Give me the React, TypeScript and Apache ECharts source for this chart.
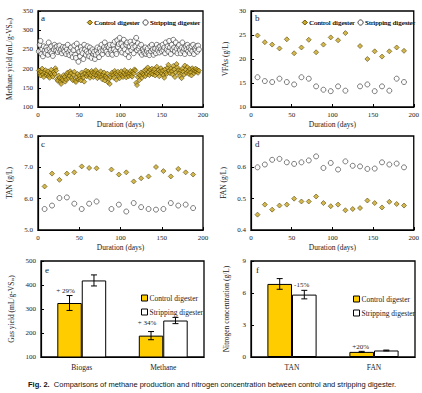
import React, { useEffect, useRef } from "react";
import * as echarts from "echarts";

// ---------- Panel a: daily methane yield (mL/g-VSin), days 1..195 ----------
const controlYield = [
  195, 188, 182, 192, 200, 185, 178, 190, 196, 183,
  187, 193, 180, 176, 189, 197, 184, 179, 191, 186,
  201, 195, 172, 168, 182, 176, 165, 160, 174, 170,
  183, 178, 166, 172, 186, 190, 175, 181, 193, 188,
  176, 170, 184, 192, 168, 165, 178, 186, 172, 181,
  174, 169, 190, 183, 177, 166, 188, 195, 180, 185,
  192, 187, 176, 183, 194, 189, 178, 185, 191, 196,
  182, 175, 188, 180, 186, 193, 179, 172, 184, 190,
  169, 181, 176, 187, 164, 173, 160, 178, 185, 190,
  183, 176, 194, 188, 171, 185, 192, 180, 175, 187,
  193, 182, 178, 189, 196, 184, 177, 191, 186, 180,
  188, 194, 183, 179, 192, 187, 198, 195, 163, 157,
  178, 185, 170, 182, 190, 176, 188, 184, 195, 180,
  198, 186, 203, 191, 183, 197, 188, 200, 185, 193,
  198, 182, 190, 205, 187, 196, 180, 193, 201, 188,
  195, 183, 176, 198, 190, 186, 202, 210, 195, 188,
  200, 193, 185, 207, 198, 178, 190, 212, 203, 196,
  188, 181, 195, 175, 200, 192, 184, 208, 197, 189,
  204, 193, 186, 199, 190, 182, 201, 196, 188, 194,
  200, 192, 197, 189, 195,
];
const strippingYield = [
  245, 262, 272, 238, 250, 232, 258, 246, 240, 255,
  248, 236, 268, 252, 243, 258, 240, 233, 250, 262,
  255, 247, 258, 243, 252, 260, 245, 250, 240, 256,
  248, 244, 256, 238, 250, 262, 242, 235, 248, 255,
  240, 230, 248, 260, 236, 228, 265, 252, 218, 244,
  232, 256, 248, 240, 225, 262, 250, 236, 245, 258,
  240, 232, 255, 245, 228, 250, 238, 244, 225, 236,
  248, 255, 240, 230, 252, 245, 262, 238, 248, 256,
  268, 250, 244, 258, 238, 255, 262, 248, 240, 236,
  262, 250, 270, 245, 238, 274, 256, 264, 280, 248,
  265, 242, 258, 275, 250, 238, 262, 268, 245, 230,
  258, 270, 248, 262, 255, 240, 272, 258, 280, 248,
  266, 252, 258, 242, 262, 236, 250, 245, 240, 255,
  238, 246, 252, 240, 235, 258, 245, 262, 250, 236,
  245, 252, 240, 262, 248, 255, 242, 258, 250, 245,
  262, 248, 255, 240, 268, 250, 258, 244, 272, 255,
  238, 262, 250, 275, 255, 245, 268, 252, 240, 258,
  262, 248, 240, 255, 268, 245, 252, 238, 258, 250,
  262, 245, 255, 240, 250, 258, 245, 262, 238, 252,
  248, 258, 244, 260, 250,
];

// ---------- Panels b, c, d: periodic samples ----------
const sampleDays = [8, 17, 26, 35, 44, 53, 62, 71, 80, 89, 98, 107, 116, 125, 134, 143, 152, 161, 170, 179, 188];
const vfaControl = [24.9, 23.5, 23.0, 22.2, 24.1, 21.2, 22.4, 24.0, 21.4, 23.0, 24.5, 23.9, 25.4, null, 22.7, 20.0, 21.6, 20.5, 21.6, 22.4, 21.7];
const vfaStripping = [16.2, 15.4, 15.2, 15.9, 15.2, 14.7, 16.2, 15.9, 14.3, 13.6, 13.3, 14.3, 13.4, null, 14.3, 14.7, 13.3, 14.3, 13.4, 15.9, 15.2];
const tanControl = [6.39, 6.8, 6.6, 6.8, 6.84, 7.03, 6.98, 6.97, null, 6.93, 6.77, 6.84, 6.55, 6.65, 6.71, 7.01, 6.88, 6.71, 6.95, 6.84, 6.77];
const tanStripping = [5.67, 5.78, 6.02, 6.04, 5.84, 5.67, 5.84, 5.91, null, 5.67, 5.81, 5.59, 5.86, 5.73, 5.67, 5.65, 5.67, 5.86, 5.78, 5.81, 5.7];
const fanControl = [0.449, 0.481, 0.465, 0.478, 0.481, 0.5, 0.491, 0.491, 0.507, 0.486, 0.476, 0.481, 0.463, 0.467, 0.47, 0.494, 0.486, 0.472, 0.49, 0.483, 0.478];
const fanStripping = [0.6, 0.609, 0.624, 0.627, 0.616, 0.611, 0.616, 0.622, 0.635, 0.598, 0.614, 0.593, 0.619, 0.605, 0.603, 0.595, 0.596, 0.616, 0.609, 0.612, 0.6];

// ---------- Panel e ----------
const gasCategories = ["Biogas", "Methane"];
const gasControl = [325, 189];
const gasControlErr = [31, 17];
const gasStripping = [419, 252];
const gasStrippingErr = [23, 13];
const gasChange = ["+ 29%", "+ 34%"];

// ---------- Panel f ----------
const nCategories = ["TAN", "FAN"];
const nControl = [6.85, 0.48];
const nControlErr = [0.5, 0.05];
const nStripping = [5.85, 0.61];
const nStrippingErr = [0.4, 0.04];
const nChange = ["-15%", "+20%"];

const SERIF = "Liberation Serif";
const INK = "#1a1a1a";
const CONTROL_FILL = "#c9a520";
const CONTROL_EDGE = "#4a3c00";
const BAR_YELLOW = "#ffcc00";

const pairs = (days: number[], vals: (number | null)[]) =>
  days.map((d, i) => [d, vals[i]]).filter((p) => p[1] !== null);

export default function App() {
  const ref = useRef<HTMLDivElement>(null);

  useEffect(() => {
    document.body.style.margin = "0";
    if (!ref.current) return;
    const chart = echarts.init(ref.current, undefined, { renderer: "svg" });

    const tickText = { fontFamily: SERIF, fontSize: 7, color: INK };
    const nameText = (extra: any = {}) => ({
      fontFamily: SERIF,
      fontSize: 7.5,
      color: INK,
      rich: { sub: { fontFamily: SERIF, fontSize: 5, color: INK, verticalAlign: "bottom", padding: [3, 0, 0, 0] } },
      ...extra,
    });
    const axisLine = { show: true, lineStyle: { color: "#000", width: 1.2 } };

    const grids = [
      { left: 38, right: 219, top: 11, height: 96 },
      { left: 251, right: 7, top: 11, height: 96 },
      { left: 38, right: 219, top: 136, height: 94 },
      { left: 251, right: 7, top: 136, height: 94 },
      { left: 41, right: 218, top: 261, height: 96 },
      { left: 251, right: 7, top: 261, height: 96 },
    ].map((g) => ({ ...g, show: true, borderColor: "#000", borderWidth: 1.3, containLabel: false }));

    const durationAxis = (gi: number) => ({
      type: "value",
      gridIndex: gi,
      min: 0,
      max: 200,
      interval: 50,
      name: "Duration (days)",
      nameLocation: "middle",
      nameGap: 13,
      nameTextStyle: nameText(),
      axisLine,
      axisTick: { show: true, inside: true, length: 3, lineStyle: { color: "#000" } },
      axisLabel: { ...tickText, margin: 4 },
      splitLine: { show: false },
    });
    const valueY = (gi: number, min: number, max: number, interval: number, name: string, gap: number, dec = 0) => ({
      type: "value",
      gridIndex: gi,
      min,
      max,
      interval,
      name,
      nameLocation: "middle",
      nameGap: gap,
      nameTextStyle: nameText(),
      axisLine,
      axisTick: { show: true, inside: true, length: 3, lineStyle: { color: "#000" } },
      axisLabel: { ...tickText, margin: 5, formatter: (v: number) => v.toFixed(dec) },
      splitLine: { show: false },
    });
    const catX = (gi: number, cats: string[]) => ({
      type: "category",
      gridIndex: gi,
      data: cats,
      axisLine,
      axisTick: { show: false },
      axisLabel: { fontFamily: SERIF, fontSize: 7.5, color: INK, margin: 6 },
    });

    const controlScatter = (name: string, gi: number, data: any[]) => ({
      type: "scatter",
      name,
      xAxisIndex: gi,
      yAxisIndex: gi,
      symbol: "diamond",
      symbolSize: 5,
      itemStyle: { color: CONTROL_FILL, borderColor: CONTROL_EDGE, borderWidth: 0.7 },
      data,
    });
    const strippingScatter = (name: string, gi: number, data: any[]) => ({
      type: "scatter",
      name,
      xAxisIndex: gi,
      yAxisIndex: gi,
      symbol: "circle",
      symbolSize: 5,
      itemStyle: { color: "#ffffff", borderColor: "#333", borderWidth: 0.8 },
      data,
    });

    const days = controlYield.map((_, i) => i + 1);

    const errorSeries = (gi: number, values: number[], errs: number[], side: number) => ({
      type: "custom",
      name: "err",
      xAxisIndex: gi,
      yAxisIndex: gi,
      silent: true,
      z: 10,
      data: values.map((v, i) => [i, v - errs[i], v + errs[i]]),
      encode: { x: 0, y: [1, 2] },
      renderItem: (_p: any, api: any) => {
        const band = api.size([1, 0])[0];
        const lo = api.coord([api.value(0), api.value(1)]);
        const hi = api.coord([api.value(0), api.value(2)]);
        const x = lo[0] + side * band * 0.15;
        const cap = 3;
        const st = { stroke: "#000", lineWidth: 1 };
        return {
          type: "group",
          children: [
            { type: "line", shape: { x1: x, y1: lo[1], x2: x, y2: hi[1] }, style: st },
            { type: "line", shape: { x1: x - cap, y1: lo[1], x2: x + cap, y2: lo[1] }, style: st },
            { type: "line", shape: { x1: x - cap, y1: hi[1], x2: x + cap, y2: hi[1] }, style: st },
          ],
        };
      },
    });

    const barSeries = (name: string, gi: number, values: number[], color: string, labels?: any[]) => ({
      type: "bar",
      name,
      xAxisIndex: gi,
      yAxisIndex: gi,
      barGap: "0%",
      barCategoryGap: "40%",
      itemStyle: { color, borderColor: "#000", borderWidth: 1 },
      data: values.map((v, i) => (labels ? { value: v, label: labels[i] } : v)),
    });

    const pctLabel = (text: string, distance: number, offset: number[]) => ({
      show: true,
      position: "top",
      formatter: text,
      distance,
      offset,
      fontFamily: SERIF,
      fontSize: 7,
      color: INK,
    });

    const scatterLegend = (p: string, left: number) => ({
      left,
      top: 14,
      orient: "horizontal",
      itemWidth: 5,
      itemHeight: 5,
      itemGap: 3,
      selectedMode: false,
      textStyle: { fontFamily: SERIF, fontSize: 7, color: INK, padding: [0, 0, 0, -3] },
      formatter: (n: string) => n.split("|")[1],
      data: [
        { name: p + "|Control digester", icon: "diamond", itemStyle: { color: CONTROL_FILL, borderColor: CONTROL_EDGE, borderWidth: 0.7 } },
        { name: p + "|Stripping digester", icon: "circle", itemStyle: { color: "#fff", borderColor: "#333", borderWidth: 0.8 } },
      ],
    });
    const barLegend = (p: string, left: number, top: number) => ({
      left,
      top,
      orient: "vertical",
      itemWidth: 6,
      itemHeight: 6,
      itemGap: 6,
      selectedMode: false,
      textStyle: { fontFamily: SERIF, fontSize: 7.5, color: INK, padding: [0, 0, 0, -3] },
      formatter: (n: string) => n.split("|")[1],
      data: [
        { name: p + "|Control digester", icon: "rect", itemStyle: { color: BAR_YELLOW, borderColor: "#000", borderWidth: 1 } },
        { name: p + "|Stripping digester", icon: "rect", itemStyle: { color: "#fff", borderColor: "#000", borderWidth: 1 } },
      ],
    });

    const letter = (t: string, x: number, y: number) => ({
      type: "text",
      x,
      y,
      style: { text: t, fontFamily: SERIF, fontSize: 9, fill: INK },
    });

    chart.setOption({
      animation: false,
      backgroundColor: "#ffffff",
      grid: grids,
      xAxis: [
        durationAxis(0),
        durationAxis(1),
        durationAxis(2),
        durationAxis(3),
        catX(4, gasCategories),
        catX(5, nCategories),
      ],
      yAxis: [
        valueY(0, 100, 350, 50, "Methane yield (mL/g-VS{sub|in})", 25),
        valueY(1, 10, 30, 5, "VFAs (g/L)", 22),
        valueY(2, 5, 8, 1, "TAN (g/L)", 25, 1),
        valueY(3, 0.4, 0.7, 0.1, "FAN (g/L)", 24, 1),
        valueY(4, 100, 500, 100, "Gas yield (mL/g-VS{sub|in})", 26),
        valueY(5, 0, 9, 3, "Nitrogen concentration (g/L)", 21),
      ],
      legend: [
        scatterLegend("a", 82),
        scatterLegend("b", 297),
        scatterLegend("c", 82),
        scatterLegend("d", 297),
        barLegend("e", 136, 289),
        barLegend("f", 348, 290),
      ],
      series: [
        controlScatter("a|Control digester", 0, days.map((d, i) => [d, controlYield[i]])),
        strippingScatter("a|Stripping digester", 0, days.map((d, i) => [d, strippingYield[i]])),
        controlScatter("b|Control digester", 1, pairs(sampleDays, vfaControl)),
        strippingScatter("b|Stripping digester", 1, pairs(sampleDays, vfaStripping)),
        controlScatter("c|Control digester", 2, pairs(sampleDays, tanControl)),
        strippingScatter("c|Stripping digester", 2, pairs(sampleDays, tanStripping)),
        controlScatter("d|Control digester", 3, pairs(sampleDays, fanControl)),
        strippingScatter("d|Stripping digester", 3, pairs(sampleDays, fanStripping)),
        barSeries("e|Control digester", 4, gasControl, BAR_YELLOW, [
          pctLabel(gasChange[0], 9, [-4, 0]),
          pctLabel(gasChange[1], 9, [-4, 0]),
        ]),
        barSeries("e|Stripping digester", 4, gasStripping, "#ffffff"),
        errorSeries(4, gasControl, gasControlErr, -1),
        errorSeries(4, gasStripping, gasStrippingErr, 1),
        barSeries("f|Control digester", 5, nControl, BAR_YELLOW, [
          pctLabel(nChange[0], 0, [22, 5]),
          pctLabel(nChange[1], 1, [-1, 0]),
        ]),
        barSeries("f|Stripping digester", 5, nStripping, "#ffffff"),
        errorSeries(5, nControl, nControlErr, -1),
        errorSeries(5, nStripping, nStrippingErr, 1),
      ],
      graphic: [
        letter("a", 41, 13),
        letter("b", 255, 13),
        letter("c", 41, 139),
        letter("d", 255, 139),
        letter("e", 45, 265),
        letter("f", 256, 265),
        {
          type: "text",
          x: 28,
          y: 380,
          style: {
            text: "{b|Fig. 2.}  Comparisons of methane production and nitrogen concentration between control and stripping digester.",
            fontFamily: "Liberation Sans",
            fontSize: 7.5,
            fill: "#111",
            rich: { b: { fontFamily: "Liberation Sans", fontSize: 7.5, fontWeight: "bold", fill: "#111" } },
          },
        },
      ],
    });

    return () => chart.dispose();
  }, []);

  return <div ref={ref} style={{ width: 422, height: 393 }} />;
}
